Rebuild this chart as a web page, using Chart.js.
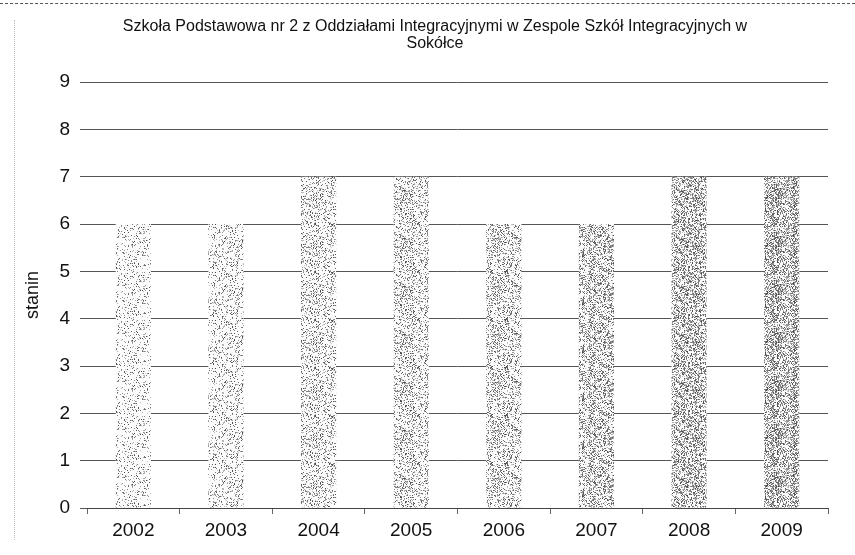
<!DOCTYPE html>
<html>
<head>
<meta charset="utf-8">
<script src="https://cdn.jsdelivr.net/npm/chart.js@4"></script>
<style>
  html, body { margin: 0; padding: 0; background: #fff; }
  #wrap { position: relative; width: 855px; height: 555px; }
  #wrap:before { content: ""; position: absolute; left: 0; top: 3px; width: 855px; border-top: 1px dashed #555; }
  #wrap:after { content: ""; position: absolute; left: 14px; top: 20px; height: 520px; border-left: 1px dotted #bbb; }
</style>
</head>
<body>
<div id="wrap"><canvas id="myChart" width="855" height="555"></canvas></div>
<script>
var years = ['2002', '2003', '2004', '2005', '2006', '2007', '2008', '2009'];
var stanin = [6, 6, 7, 7, 6, 6, 7, 7];
var titleLines = ['Szkoła Podstawowa nr 2 z Oddziałami Integracyjnymi w Zespole Szkół Integracyjnych w', 'Sokółce'];
var barShades = [0.16, 0.20, 0.26, 0.30, 0.32, 0.38, 0.45, 0.52];

// stippled fill, like the scanned original
function stipple(density) {
    var c = document.createElement('canvas');
    c.width = 48; c.height = 48;
    var g = c.getContext('2d');
    g.fillStyle = '#fbfbfb';
    g.fillRect(0, 0, 48, 48);
    var s = 12345;
    for (var y = 0; y < 48; y++) {
        for (var x = 0; x < 48; x++) {
            s = (s * 16807) % 2147483647;
            if (s / 2147483647 < density) {
                s = (s * 16807) % 2147483647;
                var v = Math.round(70 + (s / 2147483647) * 130);
                g.fillStyle = 'rgb(' + v + ',' + v + ',' + v + ')';
                g.fillRect(x, y, 1, 1);
            }
        }
    }
    return g.createPattern(c, 'repeat');
}

// title is centred a bit right of the canvas middle in the original
var titlePlugin = {
    id: 'pageTitle',
    afterDraw: function (chart) {
        var c = chart.ctx;
        c.save();
        c.fillStyle = '#111';
        c.font = '16px "Liberation Sans"';
        c.textAlign = 'center';
        c.textBaseline = 'middle';
        c.fillText(titleLines[0], 435, 27);
        c.fillText(titleLines[1], 435, 44);
        c.restore();
    }
};

var ctx = document.getElementById('myChart').getContext('2d');
var chart = new Chart(ctx, {
    type: 'bar',
    data: {
        labels: years,
        datasets: [{
            label: 'stanin',
            data: stanin,
            backgroundColor: barShades.map(stipple),
            borderWidth: 0,
            barPercentage: 0.76,
            categoryPercentage: 0.5
        }]
    },
    options: {
        responsive: false,
        animation: false,
        layout: { padding: { left: 14, right: 27, top: 82, bottom: 0 } },
        plugins: {
            legend: { display: false },
            tooltip: { enabled: false },
            title: { display: false }
        },
        scales: {
            x: {
                grid: { display: true, drawOnChartArea: false, offset: true, tickLength: 6, color: '#666' },
                border: { color: '#444' },
                ticks: { color: '#111', font: { family: 'Liberation Sans', size: 19 }, padding: 5 },
                afterFit: function (s) { s.height = 47; }
            },
            y: {
                min: 0,
                max: 9,
                ticks: { stepSize: 1, color: '#111', font: { family: 'Liberation Sans', size: 19 }, padding: 10 },
                grid: { color: '#555', tickLength: 7 },
                border: { display: false },
                title: {
                    display: true,
                    text: 'stanin',
                    color: '#111',
                    font: { family: 'Liberation Sans', size: 18 },
                    padding: 8
                },
                afterFit: function (s) { s.width = 73; }
            }
        }
    },
    plugins: [titlePlugin]
});
</script>
</body>
</html>
